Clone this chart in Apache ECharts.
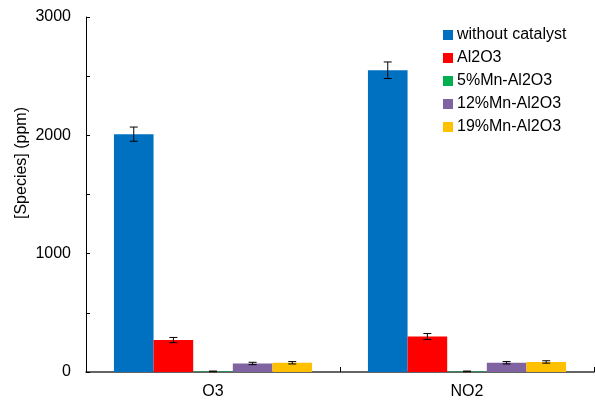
<!DOCTYPE html>
<html>
<head>
<meta charset="utf-8">
<script src="https://cdn.jsdelivr.net/npm/echarts@6/dist/echarts.min.js"></script>
<style>
  html, body { margin: 0; padding: 0; background: #fff; }
  #chart { width: 595px; height: 401px; }
</style>
</head>
<body>
<div id="chart"></div>
<script>
// Species concentration with and without catalyst
const categories = ['O3', 'NO2'];
const seriesNames = ['without catalyst', 'Al2O3', '5%Mn-Al2O3', '12%Mn-Al2O3', '19%Mn-Al2O3'];
const seriesColors = ['#0070C0', '#FF0000', '#00B050', '#8064A2', '#FFC000'];
const withoutCatalyst = [2010, 2550];
const al2o3 = [270, 300];
const mn5 = [5, 5];
const mn12 = [72, 78];
const mn19 = [78, 85];
const errWithout = [60, 70];
const errAl2o3 = [22, 25];
const errMn5 = [3, 3];
const errMn12 = [10, 10];
const errMn19 = [10, 10];
const yTicks = [0, 1000, 2000, 3000];

const values = [withoutCatalyst, al2o3, mn5, mn12, mn19];
const errors = [errWithout, errAl2o3, errMn5, errMn12, errMn19];
const CAT_GAP = 0.22;
const N = values.length;
const FONT = 'Liberation Sans, Arial, sans-serif';

const chart = echarts.init(document.getElementById('chart'));

const barSeries = values.map((v, i) => ({
  name: seriesNames[i],
  type: 'bar',
  data: v,
  barGap: '0%',
  barCategoryGap: (CAT_GAP * 100) + '%',
  itemStyle: { color: seriesColors[i] },
  emphasis: { disabled: true },
  z: 2
}));

const errSeries = values.map((v, i) => ({
  type: 'custom',
  name: 'err' + i,
  data: v.map((val, j) => [j, val, errors[i][j]]),
  z: 5,
  silent: true,
  renderItem: function (params, api) {
    const idx = api.value(0);
    const val = api.value(1);
    const err = api.value(2);
    const band = api.size([1, 0])[0];
    const w = band * (1 - CAT_GAP) / N;
    const center = api.coord([idx, 0])[0];
    const x = center - band * (1 - CAT_GAP) / 2 + w * (i + 0.5);
    const top = api.coord([idx, val + err])[1];
    const bot = api.coord([idx, Math.max(val - err, 0)])[1];
    const cap = 4;
    const style = { stroke: '#000', lineWidth: 1 };
    return {
      type: 'group',
      children: [
        { type: 'line', shape: { x1: x, y1: top, x2: x, y2: bot }, style: style },
        { type: 'line', shape: { x1: x - cap, y1: top, x2: x + cap, y2: top }, style: style },
        { type: 'line', shape: { x1: x - cap, y1: bot, x2: x + cap, y2: bot }, style: style }
      ]
    };
  }
}));

chart.setOption({
  animation: false,
  textStyle: { fontFamily: FONT },
  grid: { left: 86, right: 1, top: 17, bottom: 29, containLabel: false },
  legend: {
    data: seriesNames,
    orient: 'vertical',
    left: 443,
    top: 27,
    padding: 0,
    itemWidth: 10,
    itemHeight: 10,
    itemGap: 7,
    icon: 'rect',
    textStyle: { fontSize: 16, color: '#000', padding: [0, 0, 0, -1] }
  },
  xAxis: {
    type: 'category',
    data: categories,
    axisLine: { lineStyle: { color: '#333', width: 1.5 } },
    axisTick: { show: true, inside: true, length: 5, lineStyle: { color: '#000' } },
    axisLabel: { fontSize: 16, color: '#000', margin: 12 },
    splitLine: { show: false }
  },
  yAxis: {
    type: 'value',
    min: 0,
    max: 3000,
    interval: 500,
    axisLine: { show: true, lineStyle: { color: '#000', width: 1 } },
    axisTick: { show: true, inside: true, length: 4, lineStyle: { color: '#000' } },
    axisLabel: {
      fontSize: 16,
      color: '#000',
      margin: 15,
      formatter: function (v) { return yTicks.indexOf(v) >= 0 ? String(v) : ''; }
    },
    splitLine: { show: false }
  },
  graphic: [{
    type: 'text',
    x: 22,
    y: 163,
    rotation: Math.PI / 2,
    style: {
      text: '[Species] (ppm)',
      font: '16px ' + FONT,
      fill: '#000',
      textAlign: 'center',
      textVerticalAlign: 'middle'
    }
  }],
  series: barSeries.concat(errSeries)
});
</script>
</body>
</html>
